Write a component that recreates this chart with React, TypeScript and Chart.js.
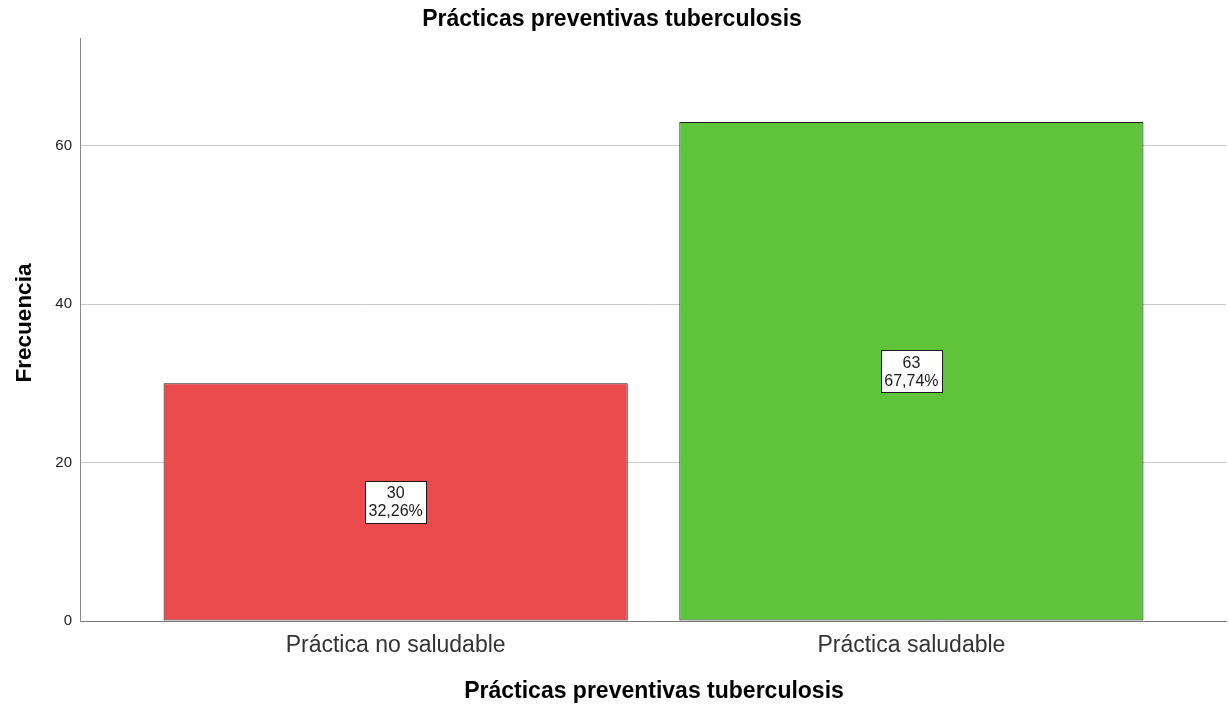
import React, { useEffect, useRef } from "react";
import { Chart, registerables } from "chart.js";

Chart.register(...registerables);

// Frequencies of preventive practices against tuberculosis
const categories = ["Práctica no saludable", "Práctica saludable"];
const frequencies = [30, 63];
const barColors = ["#EC4B4D", "#5EC43A"];
const yTicks = [0, 20, 40, 60];
const yMax = 73.6;

const chartTitle = "Prácticas preventivas tuberculosis";
const xTitle = "Prácticas preventivas tuberculosis";
const yTitle = "Frecuencia";

const total = frequencies.reduce((a, b) => a + b, 0);
const percentLabels = frequencies.map(
  (v) => ((v / total) * 100).toFixed(2).replace(".", ",") + "%"
);

const FONT = "'Liberation Sans', Arial, sans-serif";

// Draws the titles and the boxed count/percent label in each bar
const annotations = {
  id: "annotations",
  afterDraw(chart: any) {
    const ctx = chart.ctx as CanvasRenderingContext2D;
    ctx.save();
    ctx.fillStyle = "#000";
    ctx.textAlign = "center";
    ctx.textBaseline = "alphabetic";
    ctx.font = `bold 23px ${FONT}`;
    ctx.fillText(chartTitle, 612, 26);
    ctx.fillText(xTitle, 654, 698);

    ctx.save();
    ctx.font = `bold 22.5px ${FONT}`;
    ctx.translate(31, 323);
    ctx.rotate(-Math.PI / 2);
    ctx.fillText(yTitle, 0, 0);
    ctx.restore();

    const meta = chart.getDatasetMeta(0);
    meta.data.forEach((bar: any, i: number) => {
      const cx = bar.x;
      const cy = (bar.y + bar.base) / 2;
      const w = 61;
      const h = 42;
      const left = Math.round(cx - w / 2) + 0.5;
      const top = Math.round(cy - h / 2) + 0.5;
      ctx.fillStyle = "#fff";
      ctx.fillRect(left, top, w, h);
      ctx.strokeStyle = "#1a1a1a";
      ctx.lineWidth = 1;
      ctx.strokeRect(left, top, w, h);
      ctx.fillStyle = "#1a1a1a";
      ctx.font = `16px ${FONT}`;
      ctx.textAlign = "center";
      ctx.textBaseline = "middle";
      ctx.fillText(String(frequencies[i]), cx, cy - 8);
      ctx.fillText(percentLabels[i], cx, cy + 10);
    });
    ctx.restore();
  },
};

export default function App() {
  const canvasRef = useRef<HTMLCanvasElement | null>(null);

  useEffect(() => {
    if (!canvasRef.current) return;
    const chart = new Chart(canvasRef.current, {
      type: "bar",
      data: {
        datasets: [
          {
            data: frequencies.map((v, i) => ({ x: i, y: v })),
            backgroundColor: barColors,
            borderColor: "#1a1a1a",
            borderWidth: 1,
            borderSkipped: false,
            barPercentage: 0.9,
            categoryPercentage: 1,
          },
        ],
      },
      options: {
        responsive: false,
        animation: false,
        layout: { padding: { left: 0, right: 2, top: 38, bottom: 0 } },
        plugins: {
          legend: { display: false },
          tooltip: { enabled: false },
          title: { display: false },
        },
        scales: {
          x: {
            type: "linear",
            min: -0.612,
            max: 1.61,
            offset: false,
            grid: { display: false, drawTicks: false },
            border: { display: true, color: "#777", width: 1 },
            afterBuildTicks: (scale: any) => {
              scale.ticks = categories.map((_, i) => ({ value: i }));
            },
            afterFit: (scale: any) => {
              scale.height = 86;
            },
            ticks: {
              autoSkip: false,
              maxRotation: 0,
              padding: 11,
              color: "#333",
              font: { family: FONT, size: 23 },
              callback: (value: any) => categories[value] ?? "",
            },
          },
          y: {
            min: 0,
            max: yMax,
            grid: { color: "#c8c8c8", lineWidth: 1, drawTicks: false },
            border: { display: true, color: "#8a8a8a", width: 1 },
            afterBuildTicks: (scale: any) => {
              scale.ticks = yTicks.map((v) => ({ value: v }));
            },
            afterFit: (scale: any) => {
              scale.width = 80;
            },
            ticks: {
              padding: 8,
              color: "#222",
              font: { family: FONT, size: 15 },
            },
          },
        },
      },
      plugins: [annotations],
    } as any);
    return () => chart.destroy();
  }, []);

  return (
    <div
      style={{
        position: "fixed",
        left: 0,
        top: 0,
        width: 1228,
        height: 707,
        background: "#fff",
      }}
    >
      <canvas ref={canvasRef} width={1228} height={707} style={{ display: "block" }} />
    </div>
  );
}
